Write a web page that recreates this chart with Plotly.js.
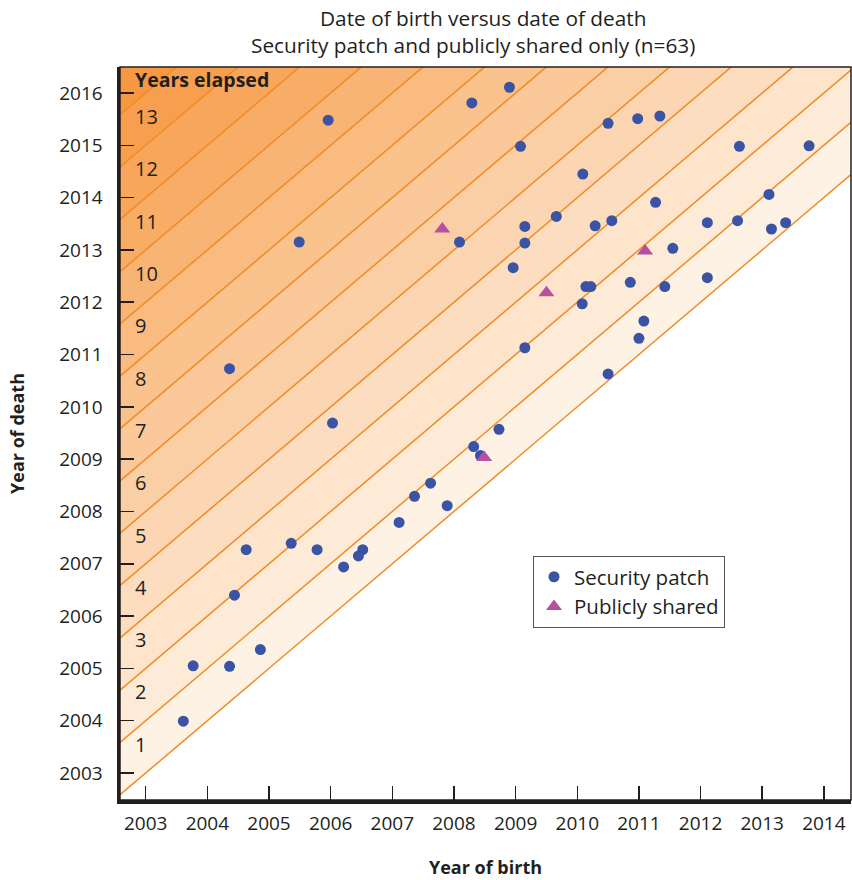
<!DOCTYPE html>
<html>
<head>
<meta charset="utf-8">
<script src="https://cdn.plot.ly/plotly-3.0.1.min.js"></script>
<style>html,body{margin:0;padding:0;background:#fff;}#chart{width:852px;height:880px;}</style>
</head>
<body>
<div id="chart"></div>
<script>
// ---- Data ----
const patchBirth = [2008.29, 2008.90, 2009.08, 2010.09, 2010.50, 2010.98, 2011.34, 2012.63, 2013.76, 2011.27,
  2013.11, 2009.66, 2009.15, 2009.15, 2008.09, 2010.29, 2010.56, 2012.11, 2012.60, 2013.15,
  2013.38, 2011.55, 2008.96, 2010.14, 2010.22, 2010.86, 2011.42, 2012.11, 2010.08, 2011.08,
  2011.00, 2009.15, 2010.50, 2008.73, 2008.32, 2008.43, 2004.36, 2006.03, 2007.62, 2007.36,
  2007.89, 2007.11, 2004.63, 2005.36, 2005.78, 2006.52, 2006.45, 2006.21, 2004.44, 2003.61,
  2003.77, 2004.36, 2004.86, 2005.96, 2005.49];
const patchDeath = [2015.81, 2016.11, 2014.98, 2014.45, 2015.42, 2015.51, 2015.56, 2014.98, 2014.99, 2013.91,
  2014.06, 2013.64, 2013.45, 2013.13, 2013.15, 2013.46, 2013.56, 2013.52, 2013.56, 2013.40,
  2013.52, 2013.03, 2012.66, 2012.30, 2012.30, 2012.38, 2012.30, 2012.47, 2011.97, 2011.64,
  2011.31, 2011.13, 2010.63, 2009.57, 2009.24, 2009.07, 2010.73, 2009.69, 2008.54, 2008.29,
  2008.11, 2007.79, 2007.27, 2007.39, 2007.27, 2007.27, 2007.15, 2006.94, 2006.40, 2003.99,
  2005.05, 2005.04, 2005.36, 2015.48, 2013.15];
const sharedBirth = [2007.81, 2009.50, 2011.10, 2008.49];
const sharedDeath = [2013.40, 2012.18, 2012.98, 2009.03];
const elapsedYears = [0,1,2,3,4,5,6,7,8,9,10,11,12,13,14];
const elapsedLabels = ['1','2','3','4','5','6','7','8','9','10','11','12','13'];
const xTicks = [2003,2004,2005,2006,2007,2008,2009,2010,2011,2012,2013,2014];
const yTicks = [2003,2004,2005,2006,2007,2008,2009,2010,2011,2012,2013,2014,2015,2016];
const titleLines = ['Date of birth versus date of death', 'Security patch and publicly shared only (n=63)'];

// ---- Styling ----
const FONT = '"Open Sans", "Noto Sans", sans-serif';
const TXT = '#231f20';
const lightC = [254, 242, 228], darkC = [246, 152, 66];
function bandColor(i, n) {
  const t = (i - 1) / (n - 2);
  const c = lightC.map((v, j) => Math.round(v + (darkC[j] - v) * t));
  return 'rgb(' + c.join(',') + ')';
}

const traces = [];
const lineX = [2001.5, 2015.5];
elapsedYears.forEach((k, i) => {
  traces.push({
    x: lineX, y: lineX.map(v => v + k), mode: 'lines', type: 'scatter',
    line: {color: '#f28a24', width: 1.5},
    fill: i === 0 ? 'none' : 'tonexty',
    fillcolor: i === 0 ? undefined : bandColor(i, elapsedYears.length),
    hoverinfo: 'skip', showlegend: false
  });
});
traces.push({
  x: patchBirth, y: patchDeath, mode: 'markers', type: 'scatter', name: 'Security patch',
  marker: {color: '#3a53a4', size: 11, symbol: 'circle'}
});
traces.push({
  x: sharedBirth, y: sharedDeath, mode: 'markers', type: 'scatter', name: 'Publicly shared',
  marker: {color: '#b5519f', size: 14, symbol: 'triangle-up'}
});

const annotations = elapsedLabels.map((t, i) => ({
  x: 2002.79, y: 2003.55 + i, xref: 'x', yref: 'y', text: t, showarrow: false,
  xanchor: 'left', yanchor: 'middle', font: {family: FONT, size: 20, color: TXT}
}));
annotations.push({
  x: 2002.79, y: 2016.25, xref: 'x', yref: 'y', text: '<b>Years elapsed</b>', showarrow: false,
  xanchor: 'left', yanchor: 'middle', font: {family: FONT, size: 19.5, color: TXT}
});
const titleY = [1.0669, 1.0300];
const titleX = [0.496, 0.483];
titleLines.forEach((t, i) => annotations.push({
  x: titleX[i], y: titleY[i], xref: 'paper', yref: 'paper', text: t, showarrow: false,
  xanchor: 'center', yanchor: 'middle', font: {family: FONT, size: 20.8, color: TXT}
}));

const layout = {
  width: 852, height: 880,
  margin: {l: 120, r: 1, t: 67, b: 80, pad: 0},
  paper_bgcolor: '#fff', plot_bgcolor: '#fff',
  font: {family: FONT, color: TXT},
  xaxis: {
    range: [2002.583, 2014.44], tickvals: xTicks, ticktext: xTicks.map(String),
    ticks: 'inside', ticklen: 14, tickwidth: 1.5, tickcolor: TXT,
    showline: true, linewidth: 3.5, linecolor: TXT, showgrid: false, zeroline: false,
    tickfont: {family: FONT, size: 19, color: TXT}, ticklabelstandoff: 4,
    title: {text: '<b>Year of birth</b>', font: {family: FONT, size: 18, color: TXT}, standoff: 27}
  },
  yaxis: {
    range: [2002.484, 2016.497], tickvals: yTicks, ticktext: yTicks.map(String),
    ticks: 'inside', ticklen: 14, tickwidth: 1.5, tickcolor: TXT,
    showline: true, linewidth: 3.5, linecolor: TXT, showgrid: false, zeroline: false,
    tickfont: {family: FONT, size: 19, color: TXT}, ticklabelstandoff: 10,
    title: {text: '<b>Year of death</b>', font: {family: FONT, size: 18, color: TXT}, standoff: 31}
  },
  shapes: [{type: 'rect', xref: 'paper', yref: 'paper', x0: 0, x1: 1, y0: 0, y1: 1,
    line: {color: TXT, width: 1.5}, layer: 'above'}],
  legend: {
    x: 0.565, y: 0.333, xanchor: 'left', yanchor: 'top', traceorder: 'normal',
    bgcolor: '#fff', bordercolor: '#555', borderwidth: 1, itemwidth: 30,
    font: {family: FONT, size: 20.5, color: TXT}
  },
  annotations: annotations,
  showlegend: true
};

Plotly.newPlot('chart', traces, layout, {displayModeBar: false, staticPlot: true});
</script>
</body>
</html>
